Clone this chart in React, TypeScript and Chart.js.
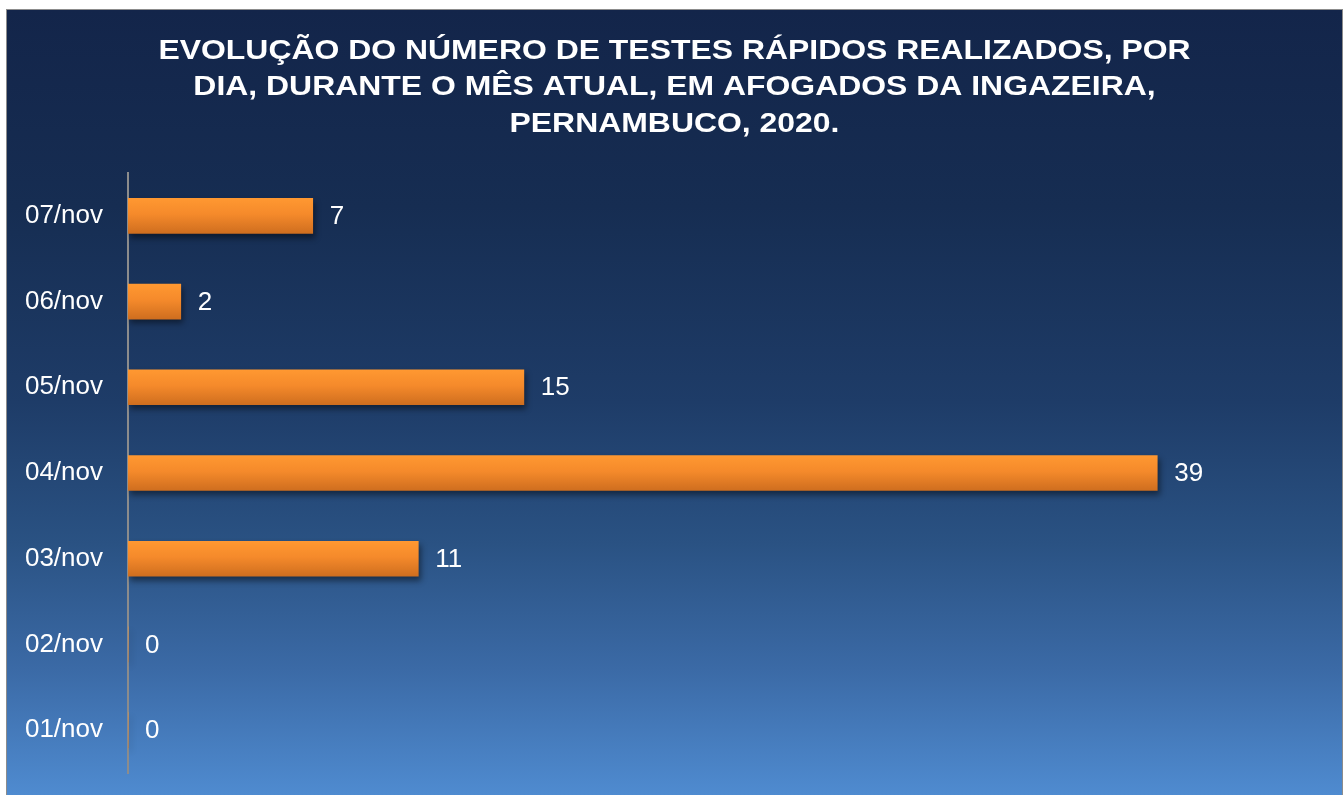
import React, { useEffect, useRef } from "react";
import { Chart, registerables } from "chart.js";

Chart.register(...registerables);

const titleLines = [
  "EVOLUÇÃO DO NÚMERO DE TESTES RÁPIDOS REALIZADOS, POR",
  "DIA, DURANTE O MÊS ATUAL, EM AFOGADOS DA INGAZEIRA,",
  "PERNAMBUCO, 2020.",
];
const categories = ["01/nov", "02/nov", "03/nov", "04/nov", "05/nov", "06/nov", "07/nov"];
const testsPerDay = [0, 0, 11, 39, 15, 2, 7];
const axisMax = 46;

const FONT = "'Liberation Sans', Arial, sans-serif";

const titlePlugin = {
  id: "stretchedTitle",
  afterDraw(chart: any) {
    const ctx = chart.ctx;
    const cx = chart.width / 2;
    ctx.save();
    ctx.fillStyle = "#ffffff";
    ctx.font = `bold 28px ${FONT}`;
    ctx.textAlign = "center";
    ctx.textBaseline = "alphabetic";
    titleLines.forEach((line, i) => {
      ctx.save();
      ctx.translate(cx, 48.5 + i * 36.6);
      ctx.scale(1.14, 1);
      ctx.fillText(line, 0, 0);
      ctx.restore();
    });
    ctx.restore();
  },
};

const barStylePlugin = {
  id: "barStyle",
  beforeDatasetsDraw(chart: any) {
    const ctx = chart.ctx;
    const meta = chart.getDatasetMeta(0);
    meta.data.forEach((el: any) => {
      const h = el.height;
      const top = el.y - h / 2;
      const g = ctx.createLinearGradient(0, top, 0, top + h);
      g.addColorStop(0, "#ff9831");
      g.addColorStop(0.45, "#f58a2b");
      g.addColorStop(1, "#cf6e1f");
      el.options = { ...el.options, backgroundColor: g };
    });
    ctx.save();
    ctx.shadowColor = "rgba(0,0,0,0.45)";
    ctx.shadowBlur = 6;
    ctx.shadowOffsetX = 2;
    ctx.shadowOffsetY = 4;
  },
  afterDatasetsDraw(chart: any) {
    const ctx = chart.ctx;
    ctx.restore();
    const meta = chart.getDatasetMeta(0);
    const values = chart.data.datasets[0].data;
    ctx.save();
    ctx.fillStyle = "#ffffff";
    ctx.font = `26px ${FONT}`;
    ctx.textAlign = "left";
    ctx.textBaseline = "middle";
    meta.data.forEach((el: any, i: number) => {
      ctx.fillText(String(values[i]), el.x + 17, el.y + 1);
    });
    ctx.restore();
  },
};

export default function App() {
  const ref = useRef<HTMLCanvasElement | null>(null);

  useEffect(() => {
    document.body.style.overflow = "hidden";
    const canvas = ref.current;
    if (!canvas) return;
    const chart = new Chart(canvas, {
      type: "bar",
      data: {
        labels: categories,
        datasets: [
          {
            data: testsPerDay,
            backgroundColor: "#f58a2b",
            borderWidth: 0,
            barThickness: 35,
          },
        ],
      },
      options: {
        indexAxis: "y",
        animation: false,
        responsive: false,
        maintainAspectRatio: false,
        layout: { padding: { left: 0, right: 0, top: 163, bottom: 22 } },
        plugins: {
          legend: { display: false },
          tooltip: { enabled: false },
          title: { display: false },
        },
        scales: {
          x: {
            display: false,
            min: 0,
            max: axisMax,
            grid: { display: false },
          },
          y: {
            reverse: true,
            grid: { display: false },
            border: { display: true, color: "#8c8c8c", width: 2 },
            ticks: {
              color: "#ffffff",
              font: { family: FONT, size: 26 },
              padding: 17,
            },
            afterFit(scale: any) {
              scale.width = 121;
              scale.paddingTop = 0;
              scale.paddingBottom = 0;
            },
          },
        },
      },
      plugins: [barStylePlugin, titlePlugin],
    } as any);
    return () => chart.destroy();
  }, []);

  return (
    <div
      style={{
        position: "absolute",
        left: 6,
        top: 9,
        width: 1335,
        height: 785,
        border: "1px solid #8c8c8c",
        borderBottom: "none",
        background:
          "linear-gradient(to bottom, #13254a 0%, #162d52 25%, #1e3c68 50%, #2a5283 68%, #3b6aa6 84%, #4f8bd0 100%)",
      }}
    >
      <canvas ref={ref} width={1335} height={785} style={{ display: "block" }} />
    </div>
  );
}
